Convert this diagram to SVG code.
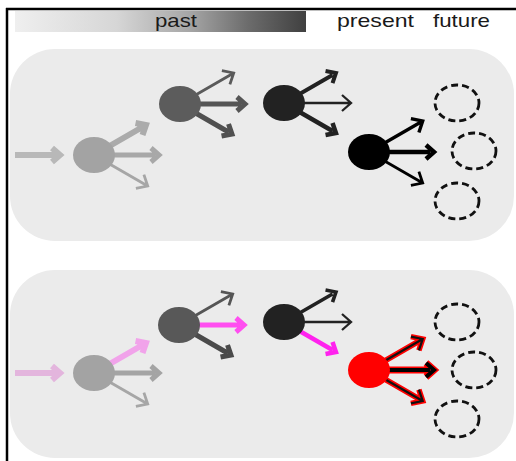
<svg xmlns="http://www.w3.org/2000/svg" xmlns:xlink="http://www.w3.org/1999/xlink" width="516" height="461" viewBox="0 0 516 461">
<style>
.panel{fill:#ebebeb}
.lbl{font-family:"Liberation Sans",Arial,sans-serif;font-size:19px;fill:#1a1a1a}
.arr{fill:none;stroke-linejoin:miter;stroke-miterlimit:10;stroke-linecap:butt}
.fut{fill:none;stroke:#111;stroke-width:2.8;stroke-dasharray:7 4}
</style>
<defs>
<linearGradient id="g" x1="0" y1="0" x2="1" y2="0">
<stop offset="0" stop-color="#efefef"/>
<stop offset="0.35" stop-color="#d6d6d6"/>
<stop offset="0.6" stop-color="#a6a6a6"/>
<stop offset="0.8" stop-color="#6c6c6c"/>
<stop offset="1" stop-color="#404040"/>
</linearGradient>
<path id="dK" d="M12,0 H56 M52,-7 L60,0 L52,7"/>
<path id="dT" d="M12,0 H62 M53,-8 L62,0 L53,8"/>
<path id="hK" d="M12,0 H61 M57,-7 L65,0 L57,7"/>
<path id="hT" d="M12,0 H67 M58,-8 L67,0 L58,8"/>
</defs>
<rect x="0" y="0" width="516" height="461" fill="#fff"/>
<g id="frame" stroke="#000" stroke-width="2.5">
<line x1="6" y1="9" x2="516" y2="9"/>
<line x1="7" y1="8" x2="7" y2="461"/>
</g>
<g id="timeline">
<rect x="15" y="11" width="291" height="21" fill="url(#g)"/>
<text class="lbl" x="155" y="26.5" textLength="42" lengthAdjust="spacingAndGlyphs">past</text>
<text class="lbl" x="337" y="26.5" textLength="77" lengthAdjust="spacingAndGlyphs">present</text>
<text class="lbl" x="433" y="26.5" textLength="57" lengthAdjust="spacingAndGlyphs">future</text>
</g>
<g id="panel-top"><rect class="panel" x="10" y="49" width="504" height="192" rx="45"/></g>
<g id="panel-bottom"><rect class="panel" x="10" y="270" width="504" height="188" rx="45"/></g>

<g id="connectors" class="arr">
<!-- top panel -->
<path d="M15,155 H56 M52,148 L60,155 L52,162" stroke="#b8b8b8" stroke-width="6"/>
<use xlink:href="#dK" transform="translate(94,155) rotate(-30)" stroke="#ababab" stroke-width="6"/>
<use xlink:href="#hK" transform="translate(94,155)" stroke="#a8a8a8" stroke-width="5"/>
<use xlink:href="#dT" transform="translate(94,155) rotate(30)" stroke="#a6a6a6" stroke-width="2.8"/>
<use xlink:href="#dT" transform="translate(180,104) rotate(-30)" stroke="#5a5a5a" stroke-width="2.8"/>
<use xlink:href="#hK" transform="translate(180,104)" stroke="#555" stroke-width="5"/>
<use xlink:href="#dK" transform="translate(180,104) rotate(30)" stroke="#505050" stroke-width="5"/>
<use xlink:href="#dK" transform="translate(284,103) rotate(-30)" stroke="#222" stroke-width="4"/>
<use xlink:href="#hT" transform="translate(284,103)" stroke="#222" stroke-width="2.3"/>
<use xlink:href="#dK" transform="translate(284,103) rotate(30)" stroke="#222" stroke-width="4.5"/>
<use xlink:href="#dT" transform="translate(369,152) rotate(-30)" stroke="#000" stroke-width="3.4"/>
<use xlink:href="#hK" transform="translate(369,152)" stroke="#000" stroke-width="4.5"/>
<use xlink:href="#dT" transform="translate(369,152) rotate(30)" stroke="#000" stroke-width="2.8"/>
<!-- bottom panel -->
<path d="M15,373 H56 M52,366 L60,373 L52,380" stroke="#e3b5dd" stroke-width="6"/>
<use xlink:href="#dK" transform="translate(94,373) rotate(-30)" stroke="#f1a3ea" stroke-width="6"/>
<use xlink:href="#hK" transform="translate(94,373)" stroke="#a4a4a4" stroke-width="5"/>
<use xlink:href="#dT" transform="translate(94,373) rotate(30)" stroke="#a6a6a6" stroke-width="2.8"/>
<use xlink:href="#dT" transform="translate(179,325) rotate(-30)" stroke="#555" stroke-width="2.8"/>
<use xlink:href="#hK" transform="translate(179,325)" stroke="#ff4ef0" stroke-width="5"/>
<use xlink:href="#dK" transform="translate(179,325) rotate(30)" stroke="#4a4a4a" stroke-width="5"/>
<use xlink:href="#dK" transform="translate(284,322) rotate(-30)" stroke="#222" stroke-width="3.6"/>
<use xlink:href="#hT" transform="translate(284,322)" stroke="#222" stroke-width="2.3"/>
<use xlink:href="#dK" transform="translate(284,322) rotate(30)" stroke="#ff22ee" stroke-width="4.5"/>
<use xlink:href="#dT" transform="translate(369,370) rotate(-30)" stroke="#f00" stroke-width="5.5"/>
<use xlink:href="#dT" transform="translate(369,370) rotate(-30)" stroke="#111" stroke-width="2.2"/>
<use xlink:href="#hK" transform="translate(369,370)" stroke="#f00" stroke-width="7"/>
<use xlink:href="#hK" transform="translate(369,370)" stroke="#000" stroke-width="4"/>
<use xlink:href="#dT" transform="translate(369,370) rotate(30)" stroke="#f00" stroke-width="5.5"/>
<use xlink:href="#dT" transform="translate(369,370) rotate(30)" stroke="#111" stroke-width="2.2"/>
</g>

<g id="t-a"><ellipse cx="94" cy="155" rx="21" ry="18" fill="#a3a3a3"/></g>
<g id="t-b"><ellipse cx="180" cy="104" rx="21" ry="18" fill="#5c5c5c"/></g>
<g id="t-c"><ellipse cx="284" cy="103" rx="21" ry="18" fill="#222"/></g>
<g id="t-d"><ellipse cx="369" cy="152" rx="21" ry="18" fill="#000"/></g>
<g id="t-f1"><ellipse class="fut" cx="457" cy="103" rx="22" ry="18"/></g>
<g id="t-f2"><ellipse class="fut" cx="474" cy="151" rx="22" ry="18"/></g>
<g id="t-f3"><ellipse class="fut" cx="457" cy="201" rx="22" ry="18"/></g>

<g id="b-a"><ellipse cx="94" cy="373" rx="21" ry="18" fill="#a3a3a3"/></g>
<g id="b-b"><ellipse cx="179" cy="325" rx="21" ry="18" fill="#585858"/></g>
<g id="b-c"><ellipse cx="284" cy="322" rx="21" ry="18" fill="#222"/></g>
<g id="b-d"><ellipse cx="369" cy="370" rx="21" ry="18" fill="#f00"/></g>
<g id="b-f1"><ellipse class="fut" cx="457" cy="322" rx="22" ry="18"/></g>
<g id="b-f2"><ellipse class="fut" cx="474" cy="370" rx="22" ry="18"/></g>
<g id="b-f3"><ellipse class="fut" cx="457" cy="419" rx="22" ry="18"/></g>
</svg>
